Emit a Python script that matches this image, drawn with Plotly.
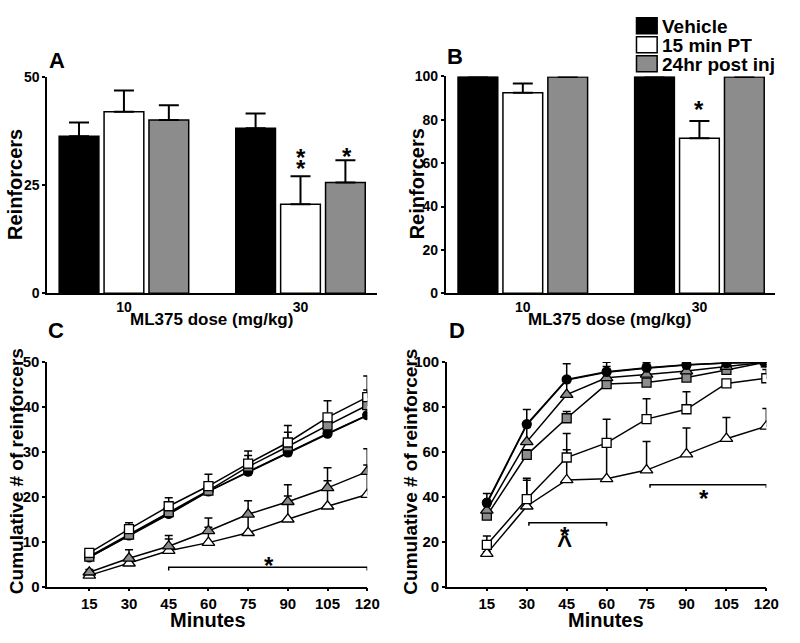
import plotly.graph_objects as go

# ---------------- data ----------------
doses = ["10", "30"]
vehicle_A = [36.3, 38.2]
vehicle_A_err = [3.2, 3.4]
pt15_A = [42.0, 20.6]
pt15_A_err = [4.9, 6.5]
hr24_A = [40.1, 25.6]
hr24_A_err = [3.4, 5.2]

vehicle_B = [100, 100]
vehicle_B_err = [0, 0]
pt15_B = [92.5, 71.5]
pt15_B_err = [4.2, 8.0]
hr24_B = [99.8, 99.8]
hr24_B_err = [0, 0]

minutes = [15, 30, 45, 60, 75, 90, 105, 120]

# Panel C (cumulative reinforcers)
vehsq_C = [6.5, 11.3, 16.1, 21.2, 25.5, 29.8, 34.0, 38.1]
circ_C = [6.5, 11.4, 16.2, 21.2, 25.6, 29.9, 34.1, 38.2]
wsq_C = [7.5, 12.8, 17.9, 22.4, 27.4, 32.1, 37.7, 42.2]
wsq_C_top = [8.1, 14.2, 19.8, 25.0, 30.2, 35.9, 41.4, 46.9]
gsq_C = [6.7, 11.6, 16.6, 21.4, 26.7, 31.2, 35.9, 40.4]
gsq_C_top = [7.3, 12.6, 17.8, 23.0, 29.2, 34.4, 38.2, 43.8]
gtri_C = [3.2, 6.3, 9.0, 12.4, 16.1, 18.9, 22.0, 25.6]
gtri_C_top = [3.8, 8.2, 11.4, 15.3, 19.1, 22.7, 26.5, 30.7]
wtri_C = [2.5, 5.2, 8.0, 9.8, 12.0, 15.0, 17.9, 20.5]
wtri_C_top = [3.2, 6.5, 10.6, 13.2, 15.8, 20.2, 23.6, 27.1]

# Panel D (cumulative % of reinforcers)
vehsq_D = [37.0, 72.0, 92.0, 95.5, 97.3, 98.7, 99.6, 100]
circ_D = [37.4, 72.4, 92.3, 95.7, 97.5, 98.8, 99.6, 99.9]
circ_D_top = [41.5, 78.9, 99.3, 99.9, 99.8, 99.5, 100, 100]
gtri_D = [34.0, 64.5, 85.5, 93.0, 94.5, 96.0, 98.0, 100]
gtri_D_top = [36.0, 71.0, 93.0, 98.0, 99.0, 97.5, 99.0, 100]
gsq_D = [31.6, 58.7, 75.0, 90.2, 90.9, 93.1, 96.5, 100]
gsq_D_top = [33.5, 61.0, 78.0, 91.5, 92.0, 94.0, 97.5, 100]
wsq_D = [18.6, 39.0, 57.5, 64.0, 74.6, 79.0, 90.5, 92.8]
wsq_D_top = [22.5, 48.3, 68.2, 74.6, 83.7, 86.8, 91.5, 96.7]
wtri_D = [14.7, 35.8, 47.5, 48.0, 51.9, 59.0, 65.9, 71.4]
wtri_D_top = [15.5, 47.4, 61.0, 64.0, 64.6, 70.7, 75.3, 79.3]

legend_labels = ["Vehicle", "15 min PT", "24hr post inj"]

# ---------------- style ----------------
W, H = 800, 643
BLACK = "#000000"
GRAY = "#8c8c8c"
WHITE = "#ffffff"
FONT = "Liberation Sans, Arial, sans-serif"


def xd(a, b):
    return [a / W, b / W]


def yd(top, bottom):
    return [1 - bottom / H, 1 - top / H]


def px(x):
    return x / W


def py(y):
    return 1 - y / H


fig = go.Figure()

# ---------------- bars (A, B) ----------------
bar_sets = [
    ("x", "y", [(vehicle_A, vehicle_A_err, BLACK), (pt15_A, pt15_A_err, WHITE), (hr24_A, hr24_A_err, GRAY)]),
    ("x2", "y2", [(vehicle_B, vehicle_B_err, BLACK), (pt15_B, pt15_B_err, WHITE), (hr24_B, hr24_B_err, GRAY)]),
]
for xa, ya, sets in bar_sets:
    for (vals, errs, col), name in zip(sets, legend_labels):
        fig.add_trace(go.Bar(
            x=doses, y=vals, name=name, xaxis=xa, yaxis=ya, showlegend=False,
            marker=dict(color=col, line=dict(color=BLACK, width=1.5)),
            error_y=dict(type="data", array=errs, arrayminus=[0] * len(errs), symmetric=False,
                         visible=True, color=BLACK, thickness=2, width=10),
        ))


# ---------------- lines (C, D) ----------------
def line_trace(xa, ya, vals, top, symbol, fill, size):
    err = None
    if top is not None:
        err = dict(type="data", array=[t - v for t, v in zip(top, vals)],
                   arrayminus=[0] * len(vals), symmetric=False, visible=True,
                   color=BLACK, thickness=1.5, width=4)
    return go.Scatter(
        x=minutes, y=vals, xaxis=xa, yaxis=ya, mode="lines+markers", showlegend=False,
        line=dict(color=BLACK, width=1.5),
        marker=dict(symbol=symbol, size=size, color=fill, line=dict(color=BLACK, width=1.3)),
        error_y=err,
    )


vehsq_D_size = [6, 6, 6, 6, 6, 6, 6, 10]
for xa, ya, d in [
    ("x3", "y3", [(vehsq_C, None, "square", BLACK, 6), (wtri_C, wtri_C_top, "triangle-up", WHITE, 11),
                  (gtri_C, gtri_C_top, "triangle-up", GRAY, 11), (circ_C, None, "circle", BLACK, 9),
                  (gsq_C, gsq_C_top, "square", GRAY, 9), (wsq_C, wsq_C_top, "square", WHITE, 9)]),
    ("x4", "y4", [(wtri_D, wtri_D_top, "triangle-up", WHITE, 11),
                  (wsq_D, wsq_D_top, "square", WHITE, 9), (gsq_D, gsq_D_top, "square", GRAY, 9),
                  (gtri_D, gtri_D_top, "triangle-up", GRAY, 11), (circ_D, circ_D_top, "circle", BLACK, 9),
                  (vehsq_D, None, "square", BLACK, vehsq_D_size)]),
]:
    for vals, top, sym, fill, size in d:
        fig.add_trace(line_trace(xa, ya, vals, top, sym, fill, size))

# ---------------- axes ----------------
axis_common = dict(showline=True, linecolor=BLACK, linewidth=1.5, showgrid=False, zeroline=False,
                   mirror=False)
tick_small = dict(family=FONT, size=14, color=BLACK, weight="bold")
tick_big = dict(family=FONT, size=15, color=BLACK, weight="bold")

fig.update_layout(
    width=W, height=H, margin=dict(l=0, r=0, t=0, b=0),
    paper_bgcolor="white", plot_bgcolor="white",
    barmode="group", bargap=0.237, bargroupgap=0.115,
    showlegend=False,
    xaxis=dict(domain=xd(48, 383), anchor="y", range=[-0.4345, 1.432], ticks="",
               tickfont=dict(family=FONT, size=14, color=BLACK, weight="bold"), **axis_common),
    yaxis=dict(domain=yd(70, 292), anchor="x", range=[0, 50], tickvals=[0, 25, 50],
               ticks="outside", ticklen=3, tickwidth=1.5, tickcolor=BLACK, tickfont=tick_small,
               **axis_common),
    xaxis2=dict(domain=xd(453, 788), anchor="y2", range=[-0.437, 1.429], ticks="",
                tickfont=dict(family=FONT, size=14, color=BLACK, weight="bold"), **axis_common),
    yaxis2=dict(domain=yd(69.3, 292), anchor="x2", range=[0, 100], tickvals=[0, 20, 40, 60, 80, 100],
                ticks="outside", ticklen=3, tickwidth=1.5, tickcolor=BLACK, tickfont=tick_small,
                **axis_common),
    xaxis3=dict(domain=xd(48, 373.3), anchor="y3", range=[-0.9, 120], tickvals=minutes,
                ticks="outside", ticklen=3, tickwidth=1.5, tickcolor=BLACK, tickfont=tick_big,
                **axis_common),
    yaxis3=dict(domain=yd(362.7, 593.3), anchor="x3", range=[0, 50], tickvals=[0, 10, 20, 30, 40, 50],
                ticks="outside", ticklen=3, tickwidth=1.5, tickcolor=BLACK, tickfont=tick_big,
                **axis_common),
    xaxis4=dict(domain=xd(454.3, 779), anchor="y4", range=[0, 120], tickvals=minutes,
                ticks="outside", ticklen=3, tickwidth=1.5, tickcolor=BLACK, tickfont=tick_big,
                **axis_common),
    yaxis4=dict(domain=yd(362.7, 593.3), anchor="x4", range=[0, 100], tickvals=[0, 20, 40, 60, 80, 100],
                ticks="outside", ticklen=3, tickwidth=1.5, tickcolor=BLACK, tickfont=tick_big,
                **axis_common),
)

shapes = []
annotations = []


def text(x, y, s, size, xref="paper", yref="paper", angle=0, xanchor="center", yanchor="middle",
         xshift=0, yshift=0):
    annotations.append(dict(x=x, y=y, xref=xref, yref=yref, text=s, showarrow=False, textangle=angle,
                            xanchor=xanchor, yanchor=yanchor, xshift=xshift, yshift=yshift,
                            font=dict(family=FONT, size=size, color=BLACK, weight="bold")))


# panel letters
text(px(58), py(53), "A", 22)
text(px(463), py(49), "B", 22)
text(px(57), py(330), "C", 22)
text(px(465), py(330), "D", 22)

# axis titles
text(px(16), py(180), "Reinforcers", 20, angle=-90)
text(px(424), py(180), "Reinforcers", 20, angle=-90)
text(px(215), py(319), "ML375 dose (mg/kg)", 17)
text(px(620), py(319), "ML375 dose (mg/kg)", 17)
text(px(17), py(475), "Cumulative # of reinforcers", 19, angle=-90)
text(px(417), py(475), "Cumulative # of reinforcers", 19, angle=-90)
text(px(211), py(628), "Minutes", 20)
text(px(616), py(628), "Minutes", 20)

# legend
for i, (lab, col) in enumerate(zip(legend_labels, [BLACK, WHITE, GRAY])):
    top = 9 + i * 19.5
    shapes.append(dict(type="rect", xref="paper", yref="paper", x0=px(647), x1=px(668),
                       y0=py(top + 16.5), y1=py(top), fillcolor=col, line=dict(color=BLACK, width=1.5)))
    text(px(670.5), py(top + 8.5), lab, 19, xanchor="left")

# significance marks, bars (category index 1 = "30")
text(1, 32.9, "*", 24, xref="x", yref="y", yshift=-6)
text(1, 30.2, "*", 24, xref="x", yref="y", yshift=-6)
text(1, 33.1, "*", 24, xref="x", yref="y", xshift=46, yshift=-6)
text(1, 87.7, "*", 24, xref="x2", yref="y2", yshift=-6)


# significance brackets, lines
def bracket(xa, ya, x0, x1, y, drop):
    shapes.append(dict(type="path", xref=xa, yref=ya,
                       path=f"M {x0},{y - drop} L {x0},{y} L {x1},{y} L {x1},{y - drop}",
                       line=dict(color=BLACK, width=1.5)))


bracket("x3", "y3", 45, 120, 4.3, 0.7)
text(82.9, 6.1, "*", 24, xref="x3", yref="y3", yshift=-6)
bracket("x4", "y4", 30.8, 60, 28.5, 1.4)
text(44.2, 25.3, "*", 24, xref="x4", yref="y4", yshift=-6)
text(44.2, 20.5, "^", 26, xref="x4", yref="y4", yshift=-4)
bracket("x4", "y4", 76.3, 120, 45.4, 1.4)
text(96.7, 41.9, "*", 24, xref="x4", yref="y4", yshift=-6)

fig.update_layout(shapes=shapes, annotations=annotations)

post = ("document.documentElement.style.margin='0';document.body.style.margin='0';"
        "document.body.style.padding='0';document.body.style.overflow='hidden';"
        "var g=document.getElementById('{plot_id}');g.style.position='fixed';"
        "g.style.left='0px';g.style.top='0px';")
fig.write_html("out.html", post_script=post, config={"displayModeBar": False})
